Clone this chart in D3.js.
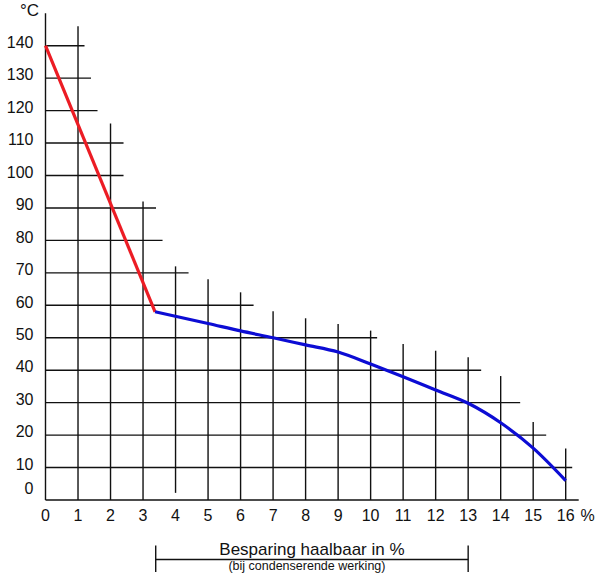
<!DOCTYPE html>
<html><head><meta charset="utf-8">
<script src="https://cdn.jsdelivr.net/npm/d3@7"></script>
<style>body{margin:0;background:#fff}svg{display:block}text{font-family:"Liberation Sans",Arial,sans-serif;fill:#111}</style>
</head><body>
<script>
// Data
const xTicks = [0,1,2,3,4,5,6,7,8,9,10,11,12,13,14,15,16];
const yTicks = [0,10,20,30,40,50,60,70,80,90,100,110,120,130,140];
// top of each vertical grid line (°C), per x tick
const vTop = [150,146,116,92,72,68,64,58.2,56,54.2,52.2,48.1,46,44,38.2,24,15.9];
// bottom of each vertical grid line (°C)
const vBottom = [0,0,0,0,2.2,0,0,0,0,0,0,0,0,0,0,0,0];
// right end of each horizontal grid line (%), per y tick
const hRight = [16.4,16.2,15.4,14.6,13.4,10.2,6.4,4.4,3.6,3.4,2.4,2.4,1.6,1.4,1.2];
const redX = [0,3.37];
const redY = [140,58];
const blueX = [3.37,5,6,7,8,9,10,11,12,13,14,15,16];
const blueY = [58,54.4,52.1,50,47.8,45.6,41.9,38,33.9,29.8,23.8,16,6];
const bracketRange = [3.39,13];
const xTitle = "Besparing haalbaar in %";
const xSub = "(bij condenserende werking)";

const W=600,H=578;
const svg=d3.select("body").append("svg").attr("width",W).attr("height",H);
const x=d3.scaleLinear().domain([0,16]).range([45.5,565.7]);
const y=d3.scaleLinear().domain([0,150]).range([500,13.25]);

const g=svg.append("g").attr("stroke","#111").attr("stroke-width",1.4);
g.selectAll("line.v").data(xTicks).join("line").attr("class","v")
 .attr("x1",d=>x(d)).attr("x2",d=>x(d))
 .attr("y1",(d,i)=>y(vBottom[i])).attr("y2",(d,i)=>y(vTop[i]));
g.selectAll("line.h").data(yTicks).join("line").attr("class","h")
 .attr("x1",x(0)).attr("x2",(d,i)=>x(hRight[i]))
 .attr("y1",d=>y(d)).attr("y2",d=>y(d));

svg.selectAll("text.yl").data(yTicks).join("text").attr("class","yl")
 .attr("x",33.5).attr("y",d=>d===0?y(d)-10:y(d)-2)
 .attr("text-anchor","end").attr("dominant-baseline","middle")
 .attr("font-size",16).text(d=>d);
svg.append("text").attr("x",39).attr("y",16).attr("text-anchor","end")
 .attr("font-size",17).text("°C");

svg.selectAll("text.xl").data(xTicks).join("text").attr("class","xl")
 .attr("x",d=>x(d)).attr("y",517).attr("text-anchor","middle")
 .attr("dominant-baseline","middle").attr("font-size",16).text(d=>d);
svg.append("text").attr("x",x(16)+22).attr("y",517).attr("text-anchor","middle")
 .attr("dominant-baseline","middle").attr("font-size",16).text("%");

const line=d3.line().x(d=>x(d[0])).y(d=>y(d[1]));
svg.append("path").datum(redX.map((v,i)=>[v,redY[i]]))
 .attr("d",line).attr("fill","none").attr("stroke","#ec1c24").attr("stroke-width",3.2);
svg.append("path").datum(blueX.map((v,i)=>[v,blueY[i]]))
 .attr("d",line.curve(d3.curveMonotoneX)).attr("fill","none").attr("stroke","#0c0cd4").attr("stroke-width",3.2);

const b=svg.append("g").attr("stroke","#111").attr("stroke-width",1.4);
b.append("line").attr("x1",x(bracketRange[0])).attr("x2",x(bracketRange[1])).attr("y1",559.5).attr("y2",559.5);
bracketRange.forEach(v=>b.append("line").attr("x1",x(v)).attr("x2",x(v)).attr("y1",545.5).attr("y2",572));
const cx=(x(bracketRange[0])+x(bracketRange[1]))/2;
svg.append("text").attr("x",cx).attr("y",555).attr("text-anchor","middle").attr("font-size",17).text(xTitle);
svg.append("text").attr("x",cx-5).attr("y",570).attr("text-anchor","middle").attr("font-size",12.5).text(xSub);
</script>
</body></html>
